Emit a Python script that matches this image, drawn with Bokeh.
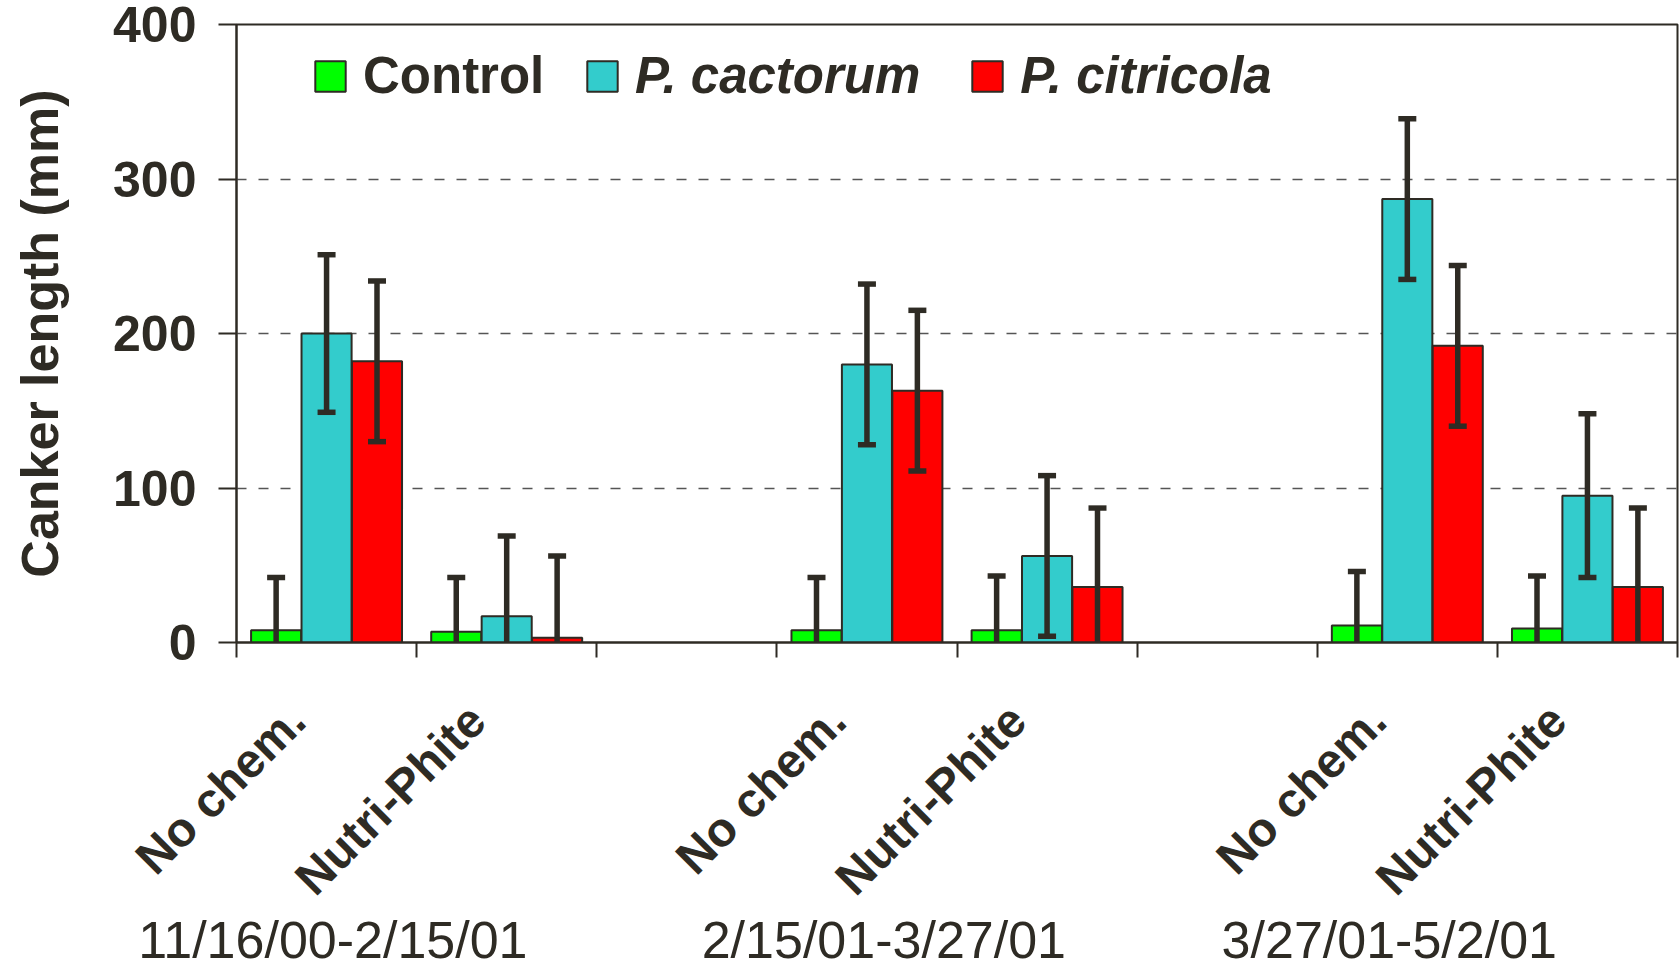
from math import pi

from bokeh.plotting import figure
from bokeh.models import (Range1d, FixedTicker, Legend, LegendItem,
                          ColumnDataSource, LinearAxis)
from bokeh.embed import file_html
from bokeh.resources import INLINE

# ---------------- data ----------------
slots = ["No chem.", "Nutri-Phite", "", "No chem.", "Nutri-Phite", "",
         "No chem.", "Nutri-Phite"]
periods = ["11/16/00-2/15/01", "2/15/01-3/27/01", "3/27/01-5/2/01"]
series_names = ["Control", "P. cactorum", "P. citricola"]

control = [8, 7, 8, 8, 11, 9]
control_err = [34, 35, 34, 35, 35, 34]
cactorum = [200, 17, 180, 56, 287, 95]
cactorum_err = [51, 52, 52, 52, 52, 53]
citricola = [182, 3, 163, 36, 192, 36]
citricola_err = [52, 53, 52, 51, 52, 51]

y_ticks = [0, 100, 200, 300, 400]

# ---------------- style ----------------
INK = "#2e2b24"
FONT = "Liberation Sans"
colors = ["#00ff00", "#33cccc", "#ff0000"]
offsets = [-0.28, 0.0, 0.28]
bar_w = 0.278

p = figure(width=1679, height=971, x_range=Range1d(0, len(slots)),
           y_range=Range1d(0, 400), output_backend="svg",
           toolbar_location=None, min_border_left=236, min_border_right=2,
           min_border_top=24, min_border_bottom=329)
p.background_fill_color = "white"
p.border_fill_color = "white"
p.outline_line_color = INK
p.outline_line_width = 2
p.xgrid.visible = False
p.ygrid.ticker = FixedTicker(ticks=y_ticks[1:-1])
p.ygrid.grid_line_color = "#555555"
p.ygrid.grid_line_dash = "10 12"
p.ygrid.grid_line_width = 1.5

centers = [i + 0.5 for i, s in enumerate(slots) if s]
labels = [s for s in slots if s]

sources = []
renderers = []
for k, (vals, errs) in enumerate([(control, control_err),
                                  (cactorum, cactorum_err),
                                  (citricola, citricola_err)]):
    xs = [c + offsets[k] for c in centers]
    src = ColumnDataSource(dict(x=xs, top=vals,
                                lo=[v - e for v, e in zip(vals, errs)],
                                hi=[v + e for v, e in zip(vals, errs)]))
    r = p.vbar(x="x", top="top", width=bar_w, source=src,
               fill_color=colors[k], line_color=INK, line_width=2)
    sources.append(src)
    renderers.append(r)

for src in sources:
    p.segment(x0="x", y0="lo", x1="x", y1="hi", source=src,
              line_color=INK, line_width=5.5)
    p.scatter(x="x", y="hi", marker="dash", size=18, source=src,
              line_color=INK, line_width=5.5)
    p.scatter(x="x", y="lo", marker="dash", size=18, source=src,
              line_color=INK, line_width=5.5)

# y axis
ya = p.yaxis[0]
ya.ticker = FixedTicker(ticks=y_ticks)
ya.major_tick_out = 18
ya.major_tick_in = 0
ya.minor_tick_out = 0
ya.minor_tick_in = 0
ya.axis_line_color = INK
ya.axis_line_width = 2
ya.major_tick_line_color = INK
ya.major_tick_line_width = 2
ya.major_label_text_font = FONT
ya.major_label_text_font_size = "50px"
ya.major_label_text_font_style = "bold"
ya.major_label_text_color = INK
ya.major_label_standoff = 22
ya.axis_label = "Canker length (mm)"
ya.axis_label_text_font = FONT
ya.axis_label_text_font_size = "52px"
ya.axis_label_text_font_style = "bold"
ya.axis_label_text_color = INK
ya.axis_label_standoff = 41

# x axis: rotated treatment labels, slot boundary ticks
xt = [c - 0.165 for c in centers]
xa = p.xaxis[0]
xa.ticker = FixedTicker(ticks=xt, minor_ticks=list(range(len(slots) + 1)))
xa.major_label_overrides = {t: s for t, s in zip(xt, labels)}
xa.major_tick_out = 0
xa.major_tick_in = 0
xa.minor_tick_out = 15
xa.minor_tick_in = 0
xa.minor_tick_line_color = INK
xa.minor_tick_line_width = 2
xa.axis_line_color = INK
xa.axis_line_width = 2
xa.major_label_orientation = pi / 4
xa.major_label_standoff = 55
xa.major_label_text_font = FONT
xa.major_label_text_font_size = "48px"
xa.major_label_text_font_style = "bold"
xa.major_label_text_color = INK

# period labels (second axis below)
period_x = [0.535, 3.594, 6.40]
pa = LinearAxis(ticker=FixedTicker(ticks=period_x),
                major_label_overrides={t: s for t, s in zip(period_x, periods)},
                axis_line_color=None, major_tick_line_color=None,
                minor_tick_line_color=None, major_tick_out=0, major_tick_in=0,
                minor_tick_out=0, minor_tick_in=0,
                major_label_standoff=-16, major_label_text_font=FONT,
                major_label_text_font_size="52px",
                major_label_text_color=INK)
p.add_layout(pa, "below")

# legends
common = dict(orientation="horizontal", padding=0, margin=0,
              glyph_width=38, glyph_height=38, label_standoff=14,
              spacing=48, border_line_alpha=0, background_fill_alpha=0,
              label_text_font=FONT, label_text_font_size="51px",
              label_text_color=INK)
leg1 = Legend(items=[LegendItem(label=series_names[0],
                                renderers=[renderers[0]])],
              location=(75, 537), label_text_font_style="bold", **common)
leg2 = Legend(items=[LegendItem(label=series_names[1], renderers=[renderers[1]]),
                     LegendItem(label=series_names[2], renderers=[renderers[2]])],
              location=(347, 537), label_text_font_style="bold italic",
              **common)
p.add_layout(leg1)
p.add_layout(leg2)

open("out.html", "w").write(file_html(p, INLINE))
